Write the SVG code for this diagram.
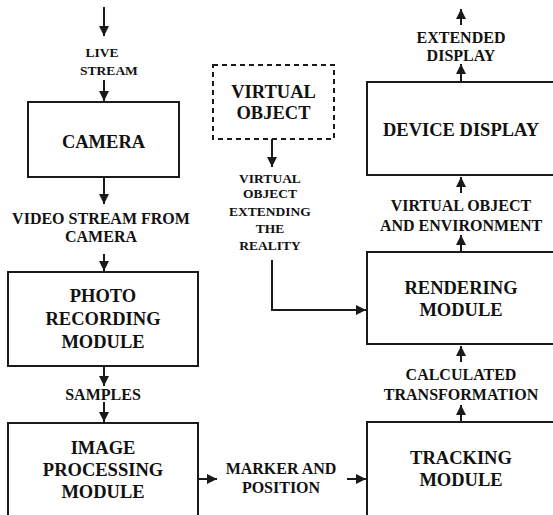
<svg xmlns="http://www.w3.org/2000/svg" width="553" height="515" viewBox="0 0 553 515">
<style>
.box{fill:#fff;stroke:#1a1a1a;stroke-width:2}
.dash{fill:#fff;stroke:#1a1a1a;stroke-width:2;stroke-dasharray:5 4}
.t{font-family:"Liberation Serif","Times New Roman","DejaVu Serif",serif;font-weight:700;fill:#111;text-anchor:middle}
.big{font-size:18.5px}
.mid{font-size:16px}
.sm{font-size:13.5px}
.c{fill:none;stroke:#1a1a1a;stroke-width:2;marker-end:url(#ah)}
</style>
<defs>
<marker id="ah" viewBox="0 0 10 10" refX="10" refY="5" markerWidth="11" markerHeight="10" markerUnits="userSpaceOnUse" orient="auto">
<path d="M0,0 L10,5 L0,10 z" fill="#1a1a1a"/>
</marker>
</defs>
<rect width="553" height="515" fill="#fff"/>
<g id="connectors">
<line class="c" x1="104" y1="7" x2="104" y2="36"/>
<line class="c" x1="104" y1="80" x2="104" y2="101"/>
<line class="c" x1="104" y1="177" x2="104" y2="204"/>
<line class="c" x1="104" y1="254" x2="104" y2="271"/>
<line class="c" x1="104" y1="366" x2="104" y2="386"/>
<line class="c" x1="104" y1="402" x2="104" y2="422"/>
<line class="c" x1="198" y1="479" x2="217" y2="479"/>
<line class="c" x1="347" y1="479" x2="366" y2="479"/>
<line class="c" x1="461" y1="422" x2="461" y2="405"/>
<line class="c" x1="461" y1="362" x2="461" y2="346"/>
<line class="c" x1="461" y1="252" x2="461" y2="235"/>
<line class="c" x1="461" y1="193" x2="461" y2="177"/>
<line class="c" x1="461" y1="82" x2="461" y2="64"/>
<line class="c" x1="461" y1="25" x2="461" y2="9"/>
<line class="c" x1="272" y1="139" x2="272" y2="167"/>
<polyline class="c" points="272,260 272,310 366,310"/>
</g>
<g id="live-stream"><text class="t sm" x="102" y="56.5">LIVE</text><text class="t sm" x="109" y="74.5">STREAM</text></g>
<g id="camera"><rect class="box" x="28" y="102" width="151" height="75"/><text class="t big" x="103.5" y="148">CAMERA</text></g>
<g id="video-stream"><text class="t mid" x="101" y="224">VIDEO STREAM FROM</text><text class="t mid" x="101" y="242">CAMERA</text></g>
<g id="photo-recording"><rect class="box" x="8" y="272" width="190" height="94"/><text class="t big" x="103" y="302">PHOTO</text><text class="t big" x="103" y="325">RECORDING</text><text class="t big" x="103" y="348">MODULE</text></g>
<g id="samples"><text class="t mid" x="103" y="399.5">SAMPLES</text></g>
<g id="image-processing"><rect class="box" x="8" y="423" width="190" height="100"/><text class="t big" x="103" y="454">IMAGE</text><text class="t big" x="103" y="476">PROCESSING</text><text class="t big" x="103" y="498">MODULE</text></g>
<g id="marker-position"><text class="t mid" x="281" y="474">MARKER AND</text><text class="t mid" x="281" y="493">POSITION</text></g>
<g id="tracking"><rect class="box" x="367" y="422" width="200" height="100"/><text class="t big" x="461" y="464">TRACKING</text><text class="t big" x="461" y="486">MODULE</text></g>
<g id="calculated"><text class="t mid" x="461" y="379.5">CALCULATED</text><text class="t mid" x="461" y="399.5">TRANSFORMATION</text></g>
<g id="rendering"><rect class="box" x="367" y="252" width="200" height="92"/><text class="t big" x="461" y="294">RENDERING</text><text class="t big" x="461" y="316">MODULE</text></g>
<g id="virtual-env"><text class="t mid" x="461" y="210.5">VIRTUAL OBJECT</text><text class="t mid" x="461" y="230.5">AND ENVIRONMENT</text></g>
<g id="device-display"><rect class="box" x="367" y="82" width="200" height="93"/><text class="t big" x="461" y="136">DEVICE DISPLAY</text></g>
<g id="extended-display"><text class="t mid" x="461" y="42.5">EXTENDED</text><text class="t mid" x="461" y="60.5">DISPLAY</text></g>
<g id="virtual-object"><rect class="dash" x="213" y="65" width="121" height="74"/><text class="t big" x="273.5" y="98">VIRTUAL</text><text class="t big" x="273.5" y="119">OBJECT</text></g>
<g id="virtual-extending"><text class="t sm" x="270" y="182.5">VIRTUAL</text><text class="t sm" x="270" y="198">OBJECT</text><text class="t sm" x="270" y="215.5">EXTENDING</text><text class="t sm" x="270" y="232.5">THE</text><text class="t sm" x="270" y="249.5">REALITY</text></g>
</svg>
